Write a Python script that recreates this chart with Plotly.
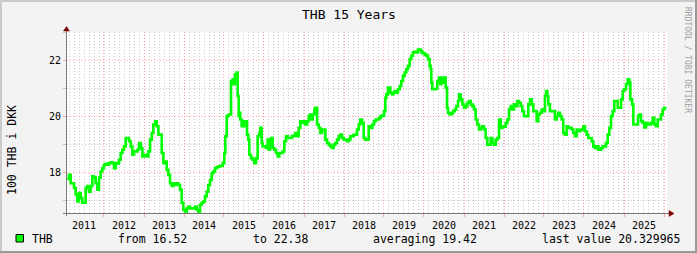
import datetime as dt
import plotly.graph_objects as go

# ---------------- data (decimal years, 100 THB in DKK) ----------------
years = [
    2011.08, 2011.125, 2011.167, 2011.25, 2011.292, 2011.333, 2011.375, 2011.417, 2011.458, 2011.5,
    2011.542, 2011.583, 2011.625, 2011.667, 2011.708, 2011.75, 2011.792, 2011.833, 2011.875, 2011.917,
    2011.958, 2012.0, 2012.042, 2012.083, 2012.125, 2012.167, 2012.208, 2012.25, 2012.292, 2012.333,
    2012.375, 2012.417, 2012.458, 2012.5, 2012.542, 2012.583, 2012.625, 2012.667, 2012.708, 2012.75,
    2012.792, 2012.833, 2012.875, 2012.917, 2012.958, 2013.0,
    2013.025, 2013.067, 2013.108, 2013.15, 2013.192, 2013.233, 2013.275, 2013.317, 2013.358, 2013.4,
    2013.442, 2013.483, 2013.525, 2013.567, 2013.608, 2013.65, 2013.692, 2013.733, 2013.775, 2013.817,
    2013.858, 2013.9, 2013.942, 2013.983, 2014.025, 2014.067, 2014.108, 2014.15, 2014.192, 2014.233,
    2014.275, 2014.317, 2014.358, 2014.4, 2014.442, 2014.483, 2014.525, 2014.567, 2014.608, 2014.65,
    2014.692, 2014.733, 2014.775, 2014.817, 2014.858, 2014.9,
    2014.925, 2014.967, 2015.008, 2015.033, 2015.067, 2015.117, 2015.175, 2015.217, 2015.242, 2015.275,
    2015.317, 2015.342, 2015.367, 2015.383, 2015.408, 2015.442, 2015.483, 2015.508, 2015.55, 2015.575,
    2015.608, 2015.633, 2015.675, 2015.717, 2015.758, 2015.8, 2015.842, 2015.883, 2015.908, 2015.942,
    2015.967, 2016.008, 2016.05, 2016.092, 2016.117, 2016.15, 2016.183, 2016.217, 2016.258, 2016.3,
    2016.342, 2016.383, 2016.425, 2016.467, 2016.508, 2016.55, 2016.592, 2016.633, 2016.7,
    2016.742, 2016.783, 2016.825, 2016.867, 2016.908, 2016.95, 2016.992, 2017.033, 2017.075, 2017.117,
    2017.158, 2017.183, 2017.217, 2017.258, 2017.283, 2017.325, 2017.367, 2017.408, 2017.45, 2017.492,
    2017.533, 2017.575, 2017.617, 2017.658, 2017.7, 2017.742, 2017.783, 2017.825, 2017.867, 2017.908,
    2017.95, 2017.992, 2018.033, 2018.075, 2018.117, 2018.158, 2018.2, 2018.242, 2018.283, 2018.325,
    2018.367, 2018.408, 2018.45, 2018.492, 2018.533, 2018.575, 2018.617,
    2018.667, 2018.708, 2018.75, 2018.792, 2018.833, 2018.875, 2018.917, 2018.958, 2019.0, 2019.033,
    2019.058, 2019.1, 2019.125, 2019.158, 2019.2, 2019.233, 2019.267, 2019.308, 2019.35, 2019.392,
    2019.433, 2019.475, 2019.517, 2019.558, 2019.6, 2019.642, 2019.683, 2019.725, 2019.767, 2019.808,
    2019.85, 2019.892, 2019.933, 2019.975, 2020.017, 2020.058, 2020.1, 2020.142, 2020.167, 2020.183,
    2020.208, 2020.242, 2020.292, 2020.333, 2020.375, 2020.408, 2020.433, 2020.475, 2020.517, 2020.542,
    2020.575,
    2020.6, 2020.642, 2020.683, 2020.725, 2020.767, 2020.808, 2020.85, 2020.875, 2020.917, 2020.958,
    2021.0, 2021.042, 2021.083, 2021.125, 2021.167, 2021.208, 2021.25, 2021.292, 2021.333, 2021.375,
    2021.417, 2021.458, 2021.5, 2021.542, 2021.583, 2021.625, 2021.667, 2021.708, 2021.75, 2021.792,
    2021.833, 2021.875, 2021.917, 2021.958, 2022.0, 2022.042, 2022.083, 2022.125, 2022.167, 2022.208,
    2022.25, 2022.292, 2022.333, 2022.375, 2022.417, 2022.458, 2022.5,
    2022.525, 2022.567, 2022.608, 2022.65, 2022.692, 2022.733, 2022.775, 2022.817, 2022.858, 2022.9,
    2022.942, 2022.983, 2023.025, 2023.05, 2023.083, 2023.108, 2023.15, 2023.192, 2023.233, 2023.275,
    2023.317, 2023.358, 2023.4, 2023.442, 2023.483, 2023.525, 2023.567, 2023.608, 2023.65, 2023.692,
    2023.733, 2023.775, 2023.817, 2023.858, 2023.9, 2023.942, 2023.983, 2024.025, 2024.067, 2024.108,
    2024.15, 2024.192, 2024.233, 2024.275, 2024.317, 2024.358, 2024.4,
    2024.425, 2024.467, 2024.508, 2024.55, 2024.592, 2024.633, 2024.675, 2024.717, 2024.758, 2024.8,
    2024.842, 2024.883, 2024.925, 2024.967, 2025.008, 2025.05, 2025.092, 2025.133, 2025.158, 2025.2,
    2025.233, 2025.275, 2025.317, 2025.35, 2025.383, 2025.425, 2025.467, 2025.508, 2025.55, 2025.592,
    2025.633, 2025.675, 2025.717, 2025.758, 2025.8, 2025.842, 2025.883, 2025.925, 2025.967, 2026.008,
    2026.033,
]
values = [
    17.75, 17.9, 17.6, 17.43, 17.2, 16.95, 17.25, 17.07, 16.9, 16.9,
    17.43, 17.5, 17.3, 17.5, 17.85, 17.8, 17.6, 17.37, 17.8, 18.02,
    18.14, 18.26, 18.3, 18.26, 18.32, 18.35, 18.32, 18.14, 18.32, 18.3,
    18.44, 18.68, 18.8, 18.92, 19.22, 19.22, 19.1, 18.92, 18.62, 18.74,
    18.74, 18.8, 19.04, 18.86, 18.56, 18.6,
    18.62, 18.56, 18.74, 19.16, 19.4, 19.7, 19.82, 19.64, 19.34, 19.34,
    18.68, 18.32, 18.38, 18.08, 17.9, 17.6, 17.5, 17.6, 17.54, 17.6,
    17.54, 17.37, 16.9, 16.65, 16.55, 16.7, 16.77, 16.7, 16.7, 16.7,
    16.77, 16.65, 16.52, 16.83, 16.9, 16.95, 17.13, 17.3, 17.54, 17.72,
    17.96, 18.02, 18.14, 18.17, 18.2, 18.22,
    18.22, 18.32, 18.68, 19.28, 20.0, 20.06, 21.26, 21.32, 21.14, 21.5,
    21.56, 20.72, 20.0, 20.12, 19.88, 19.64, 19.64, 19.82, 19.82, 19.34,
    19.16, 18.62, 18.5, 18.44, 18.32, 18.5, 19.28, 19.4, 19.58, 19.04,
    18.92, 18.92, 18.86, 19.16, 18.8, 19.16, 19.22, 18.86, 18.8, 18.68,
    18.56, 18.68, 18.68, 18.74, 19.1, 19.28, 19.22, 19.22, 19.3,
    19.28, 19.4, 19.28, 19.58, 19.82, 19.76, 19.82, 19.7, 19.82, 20.0,
    20.06, 19.88, 20.06, 20.24, 20.3, 19.7, 19.58, 19.4, 19.52, 19.52,
    19.16, 19.04, 18.98, 18.92, 18.86, 18.98, 19.04, 19.16, 19.28, 19.34,
    19.22, 19.16, 19.16, 19.1, 19.16, 19.28, 19.28, 19.34, 19.34, 19.52,
    19.7, 19.88, 19.76, 19.22, 19.16, 19.16, 19.64,
    19.58, 19.7, 19.82, 19.88, 19.88, 19.94, 20.0, 20.02, 20.18, 20.66,
    20.78, 21.02, 21.02, 20.84, 20.78, 20.84, 20.9, 20.84, 20.96, 21.08,
    21.26, 21.44, 21.56, 21.68, 21.8, 22.04, 22.16, 22.28, 22.3, 22.28,
    22.38, 22.37, 22.28, 22.25, 22.2, 22.16, 22.04, 21.8, 21.68, 21.2,
    20.96, 20.96, 20.98, 21.26, 21.38, 21.14, 21.38, 21.2, 21.38, 21.02,
    20.3,
    20.12, 20.06, 20.1, 20.18, 20.24, 20.36, 20.54, 20.78, 20.6, 20.42,
    20.3, 20.36, 20.48, 20.54, 20.42, 20.36, 20.24, 19.88, 19.7, 19.52,
    19.58, 19.64, 19.52, 19.22, 18.98, 18.98, 19.22, 19.04, 18.98, 19.16,
    19.22, 19.88, 19.58, 19.64, 19.62, 19.76, 19.88, 20.24, 20.36, 20.24,
    20.42, 20.36, 20.54, 20.48, 20.36, 20.18, 20.0,
    20.0, 20.0, 20.42, 20.6, 20.42, 20.18, 20.18, 19.82, 20.06, 20.12,
    20.24, 20.18, 20.72, 20.9, 20.72, 20.42, 20.18, 20.18, 20.18, 19.88,
    20.0, 20.12, 20.0, 19.88, 19.4, 19.34, 19.64, 19.58, 19.58, 19.52,
    19.4, 19.28, 19.52, 19.46, 19.5, 19.52, 19.64, 19.46, 19.34, 19.22,
    19.22, 19.1, 18.92, 18.86, 18.92, 18.8, 18.8,
    18.86, 18.92, 18.92, 19.04, 19.34, 19.58, 20.0, 20.18, 20.54, 20.54,
    20.3, 20.3, 20.6, 20.9, 20.96, 21.14, 21.32, 21.2, 20.6, 20.42,
    19.7, 19.7, 19.7, 20.0, 20.06, 19.82, 19.76, 19.6, 19.76, 19.7,
    19.7, 19.76, 19.94, 19.7, 19.64, 19.88, 19.88, 20.06, 20.24, 20.3,
    20.33,
]

series_name = "THB"
title_text = "THB 15 Years"
unit_label = "100 THB i DKK"
legend_texts = ["from 16.52", "to 22.38", "averaging 19.42", "last value 20.329965"]
watermark = "RRDTOOL / TOBI OETIKER"
x_start, x_end = 2011.075, 2026.075
y_range = [16.536, 23.01]


def to_date(y):
    yr = int(y)
    start = dt.datetime(yr, 1, 1)
    end = dt.datetime(yr + 1, 1, 1)
    return start + (end - start) * (y - yr)


dates = [to_date(y) for y in years]

# ---------------- layout geometry helpers (pixels -> paper) ----------------
W, H = 697, 253
L, R, T, B = 67, 30, 32, 40
PW, PH = W - L - R, H - T - B


def px(x):
    return (x - L) / PW


def py(y):
    return (H - B - y) / PH


FONT = "DejaVu Sans Mono"
GREEN = "#00FF00"
MGRID = "rgba(255,110,110,0.55)"
GRID = "rgba(150,150,150,0.5)"

fig = go.Figure()
fig.add_trace(go.Scatter(
    x=dates, y=values, mode="lines", name=series_name,
    line=dict(color=GREEN, width=2.6, shape="hv"), showlegend=False,
))

fig.update_layout(
    width=W, height=H,
    margin=dict(l=L, r=R, t=T, b=B, pad=0),
    paper_bgcolor="#F3F3F3", plot_bgcolor="#FFFFFF",
    font=dict(family=FONT, size=10, color="#000000"),
    showlegend=False,
)

fig.update_xaxes(
    type="date",
    range=[to_date(x_start), to_date(x_end)],
    tick0="2011-01-01", dtick="M12", tickformat="%Y", ticklabelmode="period",
    showgrid=True, gridcolor=MGRID, griddash="1px,2px", gridwidth=1,
    ticks="outside", ticklen=3, tickcolor=MGRID,
    minor=dict(dtick=365.25 / 8 * 86400000, tick0="2011-01-01", showgrid=True,
               gridcolor=GRID, griddash="1px,2px", gridwidth=1),
    showline=False, zeroline=False,
    tickfont=dict(family=FONT, size=10, color="#000000"),
    fixedrange=True,
)
fig.update_yaxes(
    range=y_range, tick0=0, dtick=2,
    showgrid=True, gridcolor=MGRID, griddash="1px,2px", gridwidth=1,
    ticks="outside", ticklen=3, tickcolor=MGRID,
    minor=dict(dtick=1, tick0=0, showgrid=True, gridcolor=GRID, griddash="1px,2px",
               ticks="outside", ticklen=3, tickcolor=GRID),
    showline=False, zeroline=False,
    tickfont=dict(family=FONT, size=10, color="#000000"),
    fixedrange=True,
)

AX = "#7a7a7a"
ARROW = "#7F0000"
shapes = [
    # axis lines
    dict(type="line", xref="paper", yref="paper", x0=px(63), x1=px(669), y0=py(213.5), y1=py(213.5),
         line=dict(color=AX, width=1)),
    dict(type="line", xref="paper", yref="paper", x0=px(66.5), x1=px(66.5), y0=py(216), y1=py(30),
         line=dict(color=AX, width=1)),
    # arrows
    dict(type="path", xref="paper", yref="paper",
         path=f"M {px(669)} {py(210.5)} L {px(674)} {py(213.5)} L {px(669)} {py(216.5)} Z",
         fillcolor=ARROW, line=dict(color=ARROW, width=0.5)),
    dict(type="path", xref="paper", yref="paper",
         path=f"M {px(63.5)} {py(31)} L {px(66.5)} {py(26.5)} L {px(69.5)} {py(31)} Z",
         fillcolor=ARROW, line=dict(color=ARROW, width=0.5)),
    # frame
    dict(type="rect", xref="paper", yref="paper", x0=px(0), x1=px(697), y0=py(0), y1=py(2),
         fillcolor="#CBCBCB", line=dict(width=0)),
    dict(type="rect", xref="paper", yref="paper", x0=px(0), x1=px(2), y0=py(0), y1=py(253),
         fillcolor="#CBCBCB", line=dict(width=0)),
    dict(type="rect", xref="paper", yref="paper", x0=px(0), x1=px(697), y0=py(251), y1=py(253),
         fillcolor="#999999", line=dict(width=0)),
    dict(type="rect", xref="paper", yref="paper", x0=px(695), x1=px(697), y0=py(0), y1=py(253),
         fillcolor="#999999", line=dict(width=0)),
    # legend swatch
    dict(type="rect", xref="paper", yref="paper", x0=px(16), x1=px(23.5), y0=py(234.5), y1=py(242),
         fillcolor=GREEN, line=dict(color="#000000", width=1)),
]
fig.update_layout(shapes=shapes)

ann = []
ann.append(dict(text=title_text, x=px(348.5), y=py(14), xref="paper", yref="paper",
                xanchor="center", yanchor="middle", showarrow=False,
                font=dict(family=FONT, size=13, color="#000000")))
ann.append(dict(text=unit_label, x=px(12), y=py(150), xref="paper", yref="paper",
                xanchor="center", yanchor="middle", textangle=-90, showarrow=False,
                font=dict(family=FONT, size=11.5, color="#000000")))
ann.append(dict(text=watermark, x=px(688), y=py(60), xref="paper", yref="paper",
                xanchor="center", yanchor="middle", textangle=90, showarrow=False,
                font=dict(family=FONT, size=8, color="#A0A0A0")))
leg_x = [29.5, 115.5, 250.5, 370.5, 539.5]
leg_t = [series_name] + legend_texts
for xx, tt in zip(leg_x, leg_t):
    ann.append(dict(text=tt, x=px(xx), y=py(239), xref="paper", yref="paper",
                    xanchor="left", yanchor="middle", showarrow=False,
                    font=dict(family=FONT, size=11.5, color="#000000")))
fig.update_layout(annotations=ann)

fig.write_html("out.html")
